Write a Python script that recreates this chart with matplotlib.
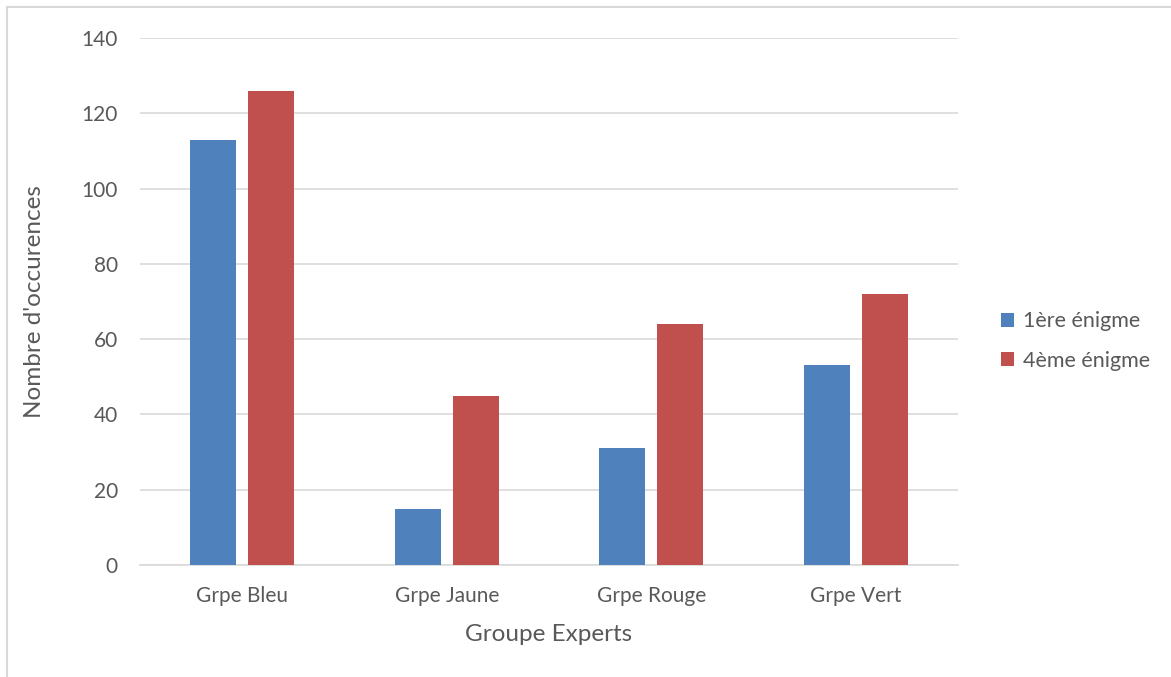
import matplotlib.pyplot as plt
import numpy as np
from matplotlib.lines import Line2D

# data
groupes = ['Grpe Bleu', 'Grpe Jaune', 'Grpe Rouge', 'Grpe Vert']
enigme1 = [113, 15, 31, 53]
enigme4 = [126, 45, 64, 72]
series_labels = ['1ère énigme', '4ème énigme']
yticks = [0, 20, 40, 60, 80, 100, 120, 140]

plt.rcParams['font.family'] = ['Lato', 'DejaVu Sans']
txt = '#595959'

fig = plt.figure(figsize=(11.71, 6.77), dpi=100)
ax = fig.add_axes([140 / 1171, 1 - 565 / 677, 818 / 1171, 527 / 677])

x = np.arange(len(groupes))
w = 0.225
ax.bar(x - 0.142, enigme1, w, color='#4F81BD', label=series_labels[0], zorder=3)
ax.bar(x + 0.142, enigme4, w, color='#C0504D', label=series_labels[1], zorder=3)

ax.set_xlim(-0.5, len(groupes) - 0.5)
ax.set_ylim(0, 140)
ax.set_yticks(yticks)
ax.yaxis.grid(True, color='#D9D9D9', linewidth=1.2, zorder=0)
for s in ['top', 'right', 'left']:
    ax.spines[s].set_visible(False)
ax.spines['bottom'].set_color('#D9D9D9')
ax.spines['bottom'].set_linewidth(1.2)
ax.tick_params(length=0, labelsize=15, colors=txt, pad=16)
ax.tick_params(axis='x', pad=15)
ax.set_xticks(x)
ax.set_xticklabels(groupes)

ax.set_xlabel('Groupe Experts', fontsize=17.5, color=txt, labelpad=13)
ax.set_ylabel("Nombre d'occurences", fontsize=17.5, color=txt, labelpad=26)

fig.legend(loc='center left', bbox_to_anchor=(982 / 1171, 1 - 341 / 677),
           frameon=False, fontsize=15.5, labelcolor=txt, handlelength=0.6,
           handleheight=0.6, handletextpad=0.4, labelspacing=0.9)

# light frame around the chart area (top and left visible)
fig.add_artist(Line2D([7 / 1171, 1.0], [1 - 7 / 677] * 2, color='#D9D9D9', linewidth=1.5))
fig.add_artist(Line2D([7 / 1171] * 2, [0.0, 1 - 7 / 677], color='#D9D9D9', linewidth=1.5))

fig.savefig('out.png', dpi=100)
